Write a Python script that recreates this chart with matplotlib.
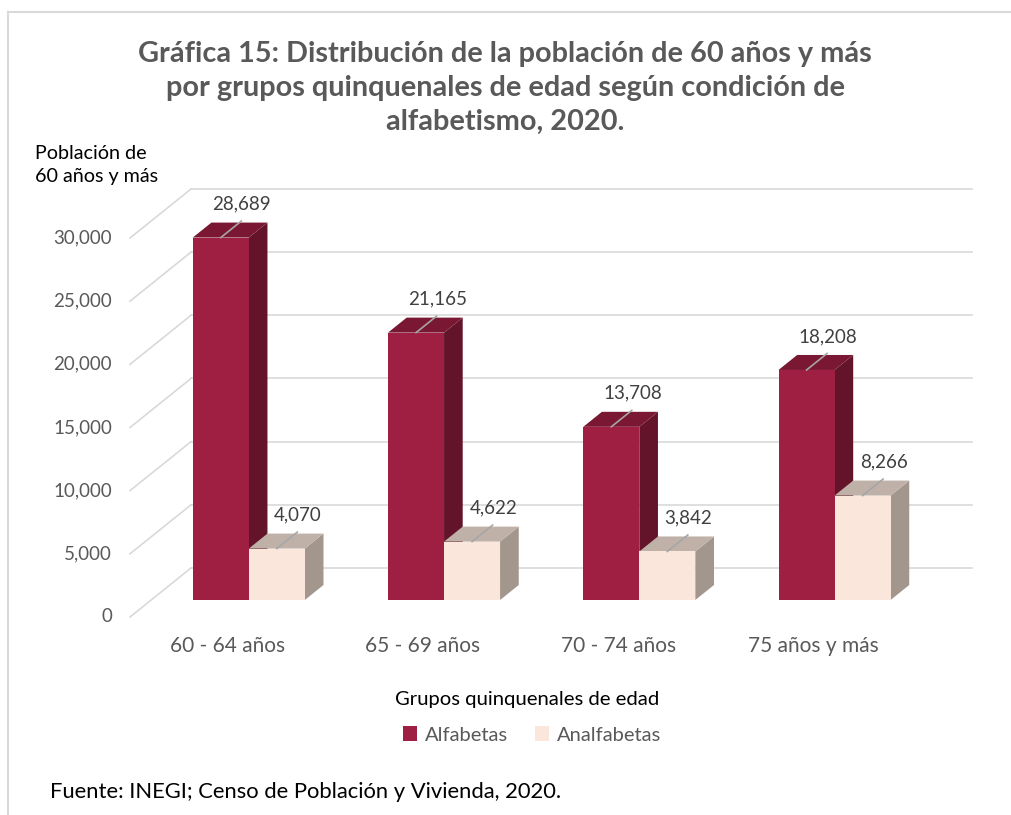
import matplotlib
matplotlib.use("Agg")
import matplotlib.pyplot as plt
from matplotlib.patches import Polygon, Patch
from matplotlib.lines import Line2D

plt.rcParams['font.family'] = ['Lato', 'DejaVu Sans']

categories = ['60 - 64 años', '65 - 69 años', '70 - 74 años', '75 años y más']
alfabetas = [28689, 21165, 13708, 18208]
analfabetas = [4070, 4622, 3842, 8266]
series_names = ['Alfabetas', 'Analfabetas']
yticks = [0, 5000, 10000, 15000, 20000, 25000, 30000]

# colores: frente, techo, lado
colors = {
    'Alfabetas': ('#9E1F42', '#7A1733', '#63132A'),
    'Analfabetas': ('#FBE6DC', '#BFB1A7', '#A3968C'),
}

# pseudo 3D: desplazamiento de profundidad en unidades de datos
DX = 0.3124
DY = 3880
front = 0.347      # posicion del frente de las barras (fraccion de profundidad)
depth = 0.306      # profundidad de las barras
bw = 0.287         # ancho de la barra

W, H = 1011, 815
fig = plt.figure(figsize=(W / 100, H / 100), dpi=100)
ax = fig.add_axes([130 / W, 1 - 617 / H, 842 / W, 428 / H])
ax.set_xlim(-0.5, 3.5 + DX)
ax.set_ylim(0, 30000 + DY)
ax.axis('off')

grid_c = '#D9D9D9'
for v in yticks:
    ax.plot([-0.5, -0.5 + DX], [v, v + DY], color=grid_c, lw=1.2, zorder=1, clip_on=False)
    ax.plot([-0.5 + DX, 3.5 + DX], [v + DY, v + DY], color=grid_c, lw=1.2, zorder=1, clip_on=False)
    ax.text(-0.5, v, f'{v:,}', ha='right', va='center', fontsize=13.5, color='#595959',
            transform=ax.transData + matplotlib.transforms.ScaledTranslation(-18 / 100, 0, fig.dpi_scale_trans))

fx = front * DX
fy = front * DY
ddx = depth * DX
ddy = depth * DY

for i, cat in enumerate(categories):
    for s, (name, vals) in enumerate(zip(series_names, [alfabetas, analfabetas])):
        v = vals[i]
        c_front, c_top, c_side = colors[name]
        x0 = i - bw + s * bw + fx
        x1 = x0 + bw
        y0 = fy
        y1 = v + fy
        side = Polygon([(x1, y0), (x1 + ddx, y0 + ddy), (x1 + ddx, y1 + ddy), (x1, y1)],
                       closed=True, facecolor=c_side, edgecolor='none', zorder=3 + s * 3)
        top = Polygon([(x0, y1), (x1, y1), (x1 + ddx, y1 + ddy), (x0 + ddx, y1 + ddy)],
                      closed=True, facecolor=c_top, edgecolor='none', zorder=4 + s * 3)
        fr = Polygon([(x0, y0), (x1, y0), (x1, y1), (x0, y1)],
                     closed=True, facecolor=c_front, edgecolor='none', zorder=5 + s * 3)
        for p in (side, top, fr):
            ax.add_patch(p)
        xc = (x0 + x1) / 2
        ax.plot([xc, xc + ddx * 1.1], [y1, y1 + ddy * 1.1], color='#A6A6A6', lw=1.2, zorder=10)
        ax.text(xc + 0.108, y1 + 2650, f'{v:,}', ha='center', va='center', fontsize=13.5,
                color='#404040', zorder=11, clip_on=False)
    ax.text(i, -2300, cat, ha='center', va='center', fontsize=15, color='#595959', clip_on=False)

fig.text(505 / W, 1 - 88 / H,
         'Gráfica 15: Distribución de la población de 60 años y más\n'
         'por grupos quinquenales de edad según condición de\n'
         'alfabetismo, 2020.',
         ha='center', va='center', fontsize=20.8, fontweight='bold', color='#595959', linespacing=1.38)

fig.text(35 / W, 1 - 165 / H, 'Población de\n60 años y más', ha='left', va='center',
         fontsize=14.2, color='black', linespacing=1.4)

fig.text(527 / W, 1 - 700 / H, 'Grupos quinquenales de edad', ha='center', va='center',
         fontsize=14.6, color='black')

handles = [Patch(facecolor=colors[n][0], edgecolor='none') for n in series_names]
fig.legend(handles, series_names, loc='center', bbox_to_anchor=(532 / W, 1 - 735 / H), ncol=2,
           frameon=False, fontsize=14.5, labelcolor='#595959', handlelength=0.7, handleheight=0.7,
           handletextpad=0.4, columnspacing=1.3)

fig.text(50 / W, 1 - 792 / H, 'Fuente: INEGI; Censo de Población y Vivienda, 2020.', ha='left',
         va='center', fontsize=15.8, color='black')

# marco
fig.add_artist(Line2D([8 / W, 8 / W], [0, 1 - 12 / H], color=grid_c, lw=1.5))
fig.add_artist(Line2D([8 / W, 1], [1 - 12 / H, 1 - 12 / H], color=grid_c, lw=1.5))

fig.savefig('out.png', dpi=100, facecolor='white')
